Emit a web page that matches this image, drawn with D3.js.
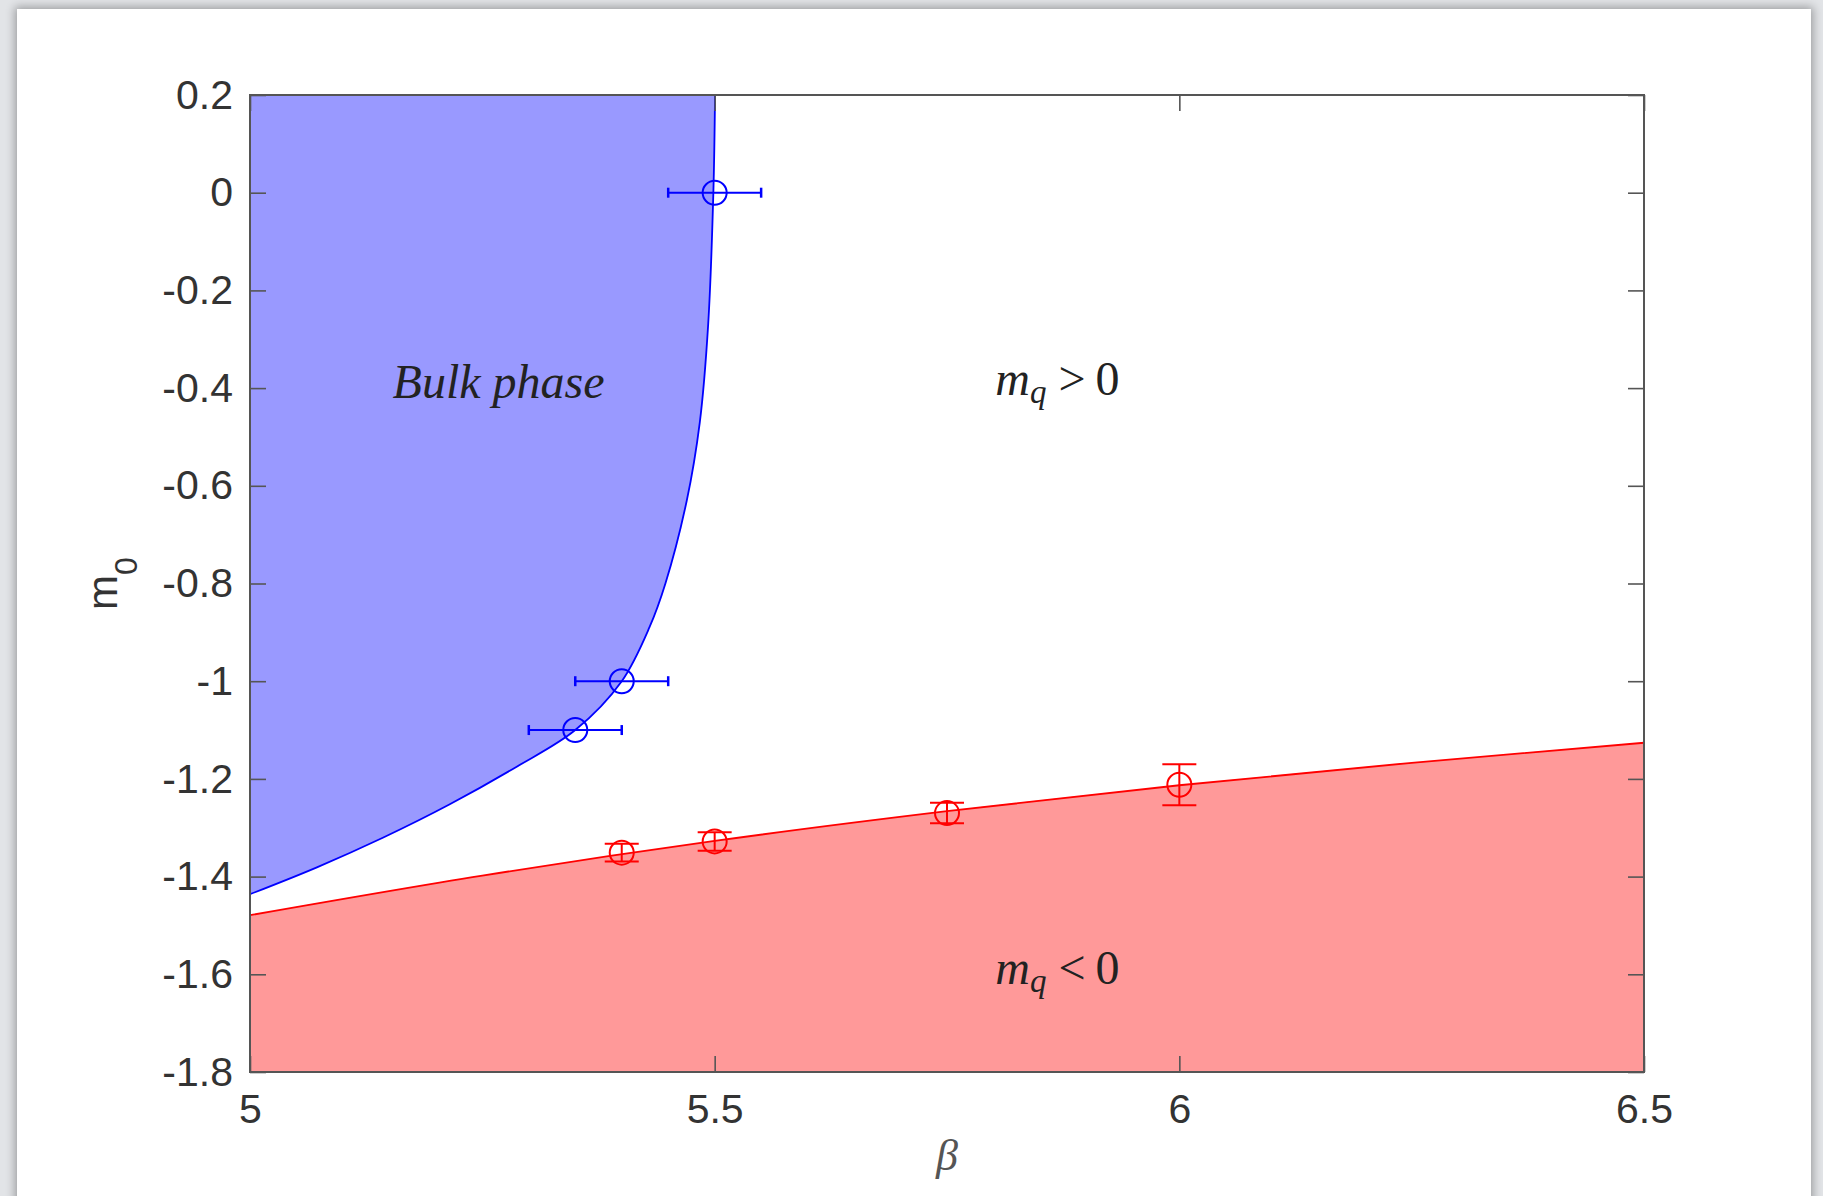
<!DOCTYPE html>
<html><head><meta charset="utf-8">
<script src="https://cdn.jsdelivr.net/npm/d3@7"></script>
<style>
html,body{margin:0;padding:0;width:1823px;height:1196px;overflow:hidden;background:#e2e4e7;}
#card{position:absolute;left:17px;top:9px;width:1794px;height:1220px;background:#fff;box-shadow:0 0 9px 2px rgba(0,0,0,0.32);}
svg{position:absolute;left:0;top:0;}
</style></head><body><div id="card"></div><svg id="chart" width="1823" height="1196"></svg>
<script>
// ---- data ----
const xTicks = [5, 5.5, 6, 6.5];
const xTickLabels = ["5", "5.5", "6", "6.5"];
const yTicks = [0.2, 0, -0.2, -0.4, -0.6, -0.8, -1, -1.2, -1.4, -1.6, -1.8];
const yTickLabels = ["0.2", "0", "-0.2", "-0.4", "-0.6", "-0.8", "-1", "-1.2", "-1.4", "-1.6", "-1.8"];

// bulk-phase boundary (blue curve)
const bulkCurveBeta = [5.0, 5.072, 5.1435, 5.215, 5.287, 5.35, 5.4, 5.43, 5.447, 5.47, 5.484, 5.493, 5.4986, 5.5004];
const bulkCurveM    = [-1.436, -1.381, -1.32, -1.252, -1.175, -1.10, -1.0, -0.889, -0.80, -0.63, -0.47, -0.27, 0.0, 0.2];
// critical line m_q = 0 (red curve)
const critCurveBeta = [5.0, 5.25, 5.5, 5.75, 6.0, 6.25, 6.5];
const critCurveM    = [-1.479, -1.398, -1.327, -1.266, -1.213, -1.167, -1.126];

// blue points with horizontal errors
const bulkPtBeta = [5.5, 5.4, 5.35];
const bulkPtM    = [0.0, -1.0, -1.1];
const bulkPtErrX = [0.05, 0.05, 0.05];
// red points with vertical errors
const critPtBeta = [5.4, 5.5, 5.75, 6.0];
const critPtM    = [-1.351, -1.328, -1.27, -1.212];
const critPtErrY = [0.018, 0.019, 0.021, 0.042];

// annotations
const annoText = ["Bulk phase", "mq>0", "mq<0"];
const annoBeta = [5.2675, 5.802, 5.802];
const annoM    = [-0.42, -0.415, -1.62];

// ---- drawing ----
const svg = d3.select("#chart");
const x = d3.scaleLinear().domain([5, 6.5]).range([250, 1644]);
const y = d3.scaleLinear().domain([0.2, -1.8]).range([95, 1072]);

const bulkPts = bulkCurveBeta.map((b, i) => [b, bulkCurveM[i]]);
const critPts = critCurveBeta.map((b, i) => [b, critCurveM[i]]);

const bulkLine = d3.line().x(d => x(d[0])).y(d => y(d[1])).curve(d3.curveCatmullRom.alpha(0.5));
const critLine = d3.line().x(d => x(d[0])).y(d => y(d[1])).curve(d3.curveMonotoneX);

// fills
svg.append("path")
  .attr("d", bulkLine(bulkPts) + `L${x(5)},${y(0.2)}Z`)
  .attr("fill", "#9999ff");
svg.append("path")
  .attr("d", critLine(critPts) + `L${x(6.5)},${y(-1.8)}L${x(5)},${y(-1.8)}Z`)
  .attr("fill", "#ff9999");

// curves
svg.append("path").attr("d", bulkLine(bulkPts)).attr("fill", "none")
  .attr("stroke", "#0000ff").attr("stroke-width", 1.8);
svg.append("path").attr("d", critLine(critPts)).attr("fill", "none")
  .attr("stroke", "#ff0000").attr("stroke-width", 1.8);

// blue points
const gb = svg.append("g").attr("stroke", "#0000ff").attr("fill", "none").attr("stroke-width", 2);
bulkPtBeta.forEach((b, i) => {
  const cx = x(b), cy = y(bulkPtM[i]);
  const x0 = x(b - bulkPtErrX[i]), x1 = x(b + bulkPtErrX[i]);
  gb.append("line").attr("x1", x0).attr("x2", x1).attr("y1", cy).attr("y2", cy);
  gb.append("line").attr("x1", x0).attr("x2", x0).attr("y1", cy - 5).attr("y2", cy + 5).attr("stroke-width", 2.5);
  gb.append("line").attr("x1", x1).attr("x2", x1).attr("y1", cy - 5).attr("y2", cy + 5).attr("stroke-width", 2.5);
  gb.append("circle").attr("cx", cx).attr("cy", cy).attr("r", 12);
});

// red points
const gr = svg.append("g").attr("stroke", "#ff0000").attr("fill", "none").attr("stroke-width", 2);
critPtBeta.forEach((b, i) => {
  const cx = x(b), cy = y(critPtM[i]);
  const y0 = y(critPtM[i] + critPtErrY[i]), y1 = y(critPtM[i] - critPtErrY[i]);
  gr.append("line").attr("x1", cx).attr("x2", cx).attr("y1", y0).attr("y2", y1);
  gr.append("line").attr("x1", cx - 17).attr("x2", cx + 17).attr("y1", y0).attr("y2", y0);
  gr.append("line").attr("x1", cx - 17).attr("x2", cx + 17).attr("y1", y1).attr("y2", y1);
  gr.append("circle").attr("cx", cx).attr("cy", cy).attr("r", 12);
});

// axes
const tickLen = 16;
const font = "'Liberation Sans', Arial, Helvetica, sans-serif";
function styleAxis(g) {
  g.select(".domain").remove();
  g.selectAll(".tick line").attr("stroke", "#555").attr("stroke-width", 1.6);
  g.selectAll(".tick text").attr("fill", "#333").attr("font-size", 41).attr("font-family", font);
}
svg.append("g").attr("transform", `translate(${x(5)},0)`)
  .call(d3.axisLeft(y).tickValues(yTicks).tickFormat((d, i) => yTickLabels[i]).tickSizeInner(-tickLen).tickSizeOuter(0).tickPadding(17))
  .call(styleAxis);
svg.append("g").attr("transform", `translate(${x(6.5)},0)`)
  .call(d3.axisRight(y).tickValues(yTicks).tickFormat("").tickSizeInner(-tickLen).tickSizeOuter(0))
  .call(styleAxis);
svg.append("g").attr("transform", `translate(0,${y(-1.8)})`)
  .call(d3.axisBottom(x).tickValues(xTicks).tickFormat((d, i) => xTickLabels[i]).tickSizeInner(-tickLen).tickSizeOuter(0).tickPadding(22))
  .call(styleAxis);
svg.append("g").attr("transform", `translate(0,${y(0.2)})`)
  .call(d3.axisTop(x).tickValues(xTicks).tickFormat("").tickSizeInner(-tickLen).tickSizeOuter(0))
  .call(styleAxis);

// frame
svg.append("rect")
  .attr("x", x(5)).attr("y", y(0.2))
  .attr("width", x(6.5) - x(5)).attr("height", y(-1.8) - y(0.2))
  .attr("fill", "none").attr("stroke", "#555").attr("stroke-width", 2);

// axis titles
const yl = svg.append("text")
  .attr("transform", `translate(117,${(y(0.2) + y(-1.8)) / 2}) rotate(-90)`)
  .attr("text-anchor", "middle").attr("font-family", font).attr("fill", "#333");
yl.append("tspan").attr("font-size", 42).text("m");
yl.append("tspan").attr("font-size", 32).attr("dy", 20).text("0");

svg.append("text")
  .attr("x", (x(5) + x(6.5)) / 2).attr("y", 1170)
  .attr("text-anchor", "middle")
  .attr("font-family", "'Liberation Serif', 'Times New Roman', serif")
  .attr("font-style", "italic").attr("font-size", 44).attr("fill", "#555")
  .text("β");

// annotations
const serif = "'Liberation Serif', 'Times New Roman', serif";
svg.append("text")
  .attr("x", x(annoBeta[0])).attr("y", y(annoM[0]))
  .attr("text-anchor", "middle").attr("font-family", serif)
  .attr("font-style", "italic").attr("font-size", 48).attr("fill", "#222")
  .text(annoText[0]);

[1, 2].forEach(k => {
  const t = svg.append("text")
    .attr("x", x(annoBeta[k])).attr("y", y(annoM[k]))
    .attr("font-family", serif).attr("font-size", 48).attr("fill", "#222");
  t.append("tspan").attr("font-style", "italic").text(annoText[k][0]);
  t.append("tspan").attr("font-style", "italic").attr("font-size", 33).attr("dy", 8).text(annoText[k][1]);
  t.append("tspan").attr("dy", -8).attr("dx", 12).text(annoText[k][2]);
  t.append("tspan").attr("dx", 10).text("0");
});
</script>
</body></html>
